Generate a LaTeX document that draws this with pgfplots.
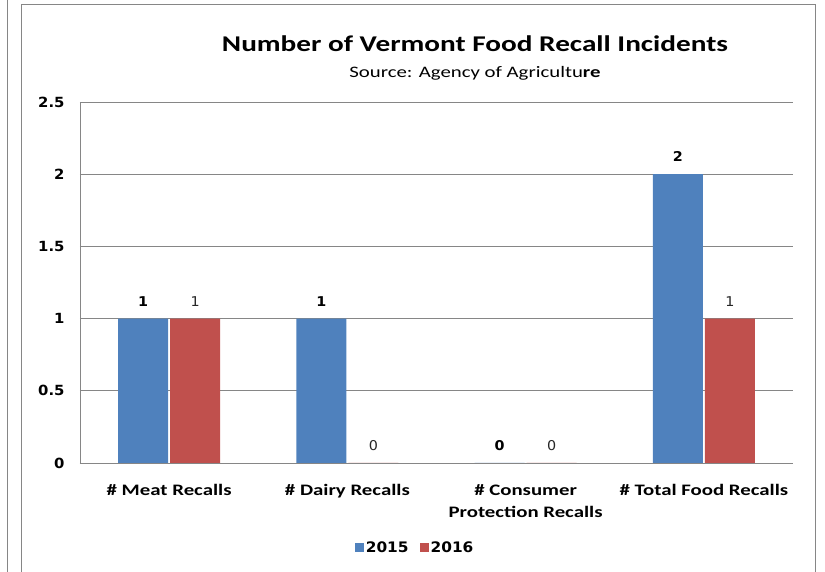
\documentclass[border=0pt]{standalone}
\usepackage{pgfplots}
\pgfplotsset{compat=1.18}
\usepackage{fontspec}
\setmainfont{Carlito}[FakeStretch=1.3]
\newfontfamily\vfont{DejaVu Sans}[FakeStretch=1.06]
\definecolor{xlblue}{HTML}{4F81BD}
\definecolor{xlred}{HTML}{C0504D}
\definecolor{xlgrid}{HTML}{868686}
\begin{document}
\begin{tikzpicture}[x=1pt,y=1pt]
\useasboundingbox (0,0) rectangle (825,572);
% chart frames
\draw[xlgrid,line width=1pt] (7.5,0) -- (7.5,572);
\draw[xlgrid,line width=1pt] (21,0) -- (21,567) -- (815,567) -- (815,0);
% titles
\node[font=\bfseries\fontsize{22.5}{27}\selectfont,anchor=base] at (475,520) {Number of Vermont Food Recall Incidents};
\node[font=\fontsize{16}{20}\selectfont,anchor=base] at (475,494) {Source: Agency of Agricultu\textbf{re}};
\begin{axis}[
  at={(80pt,109pt)}, anchor=south west,
  scale only axis, width=713pt, height=361pt,
  ybar, bar width=50pt,
  xmin=-0.5, xmax=3.5, ymin=0, ymax=2.5,
  xtick={0,1,2,3},
  xticklabels={{\# Meat Recalls},{\# Dairy Recalls},{\# Consumer\\Protection Recalls},{\# Total Food Recalls}},
  xticklabel style={font=\bfseries\fontsize{16}{22}\selectfont,align=center,anchor=north,yshift=-18pt},
  ytick={0,0.5,1,1.5,2,2.5},
  yticklabels={0,0.5,1,1.5,2,2.5},
  yticklabel style={font=\vfont\bfseries\fontsize{14}{16}\selectfont,anchor=east,xshift=-12pt},
  major tick length=0pt,
  ymajorgrids, grid style={xlgrid,line width=0.8pt},
  axis x line*=bottom, axis y line*=left,
  axis line style={xlgrid,line width=0.8pt,-},
  separate axis lines,
  /pgf/number format/assume math mode=true,
  nodes near coords,
  legend columns=2,
  legend style={draw=none,fill=none,at={(0.47,-0.235)},anchor=center,
    font=\vfont\bfseries\fontsize{14.5}{18}\selectfont,
    /tikz/every even column/.append style={column sep=9pt}},
  legend image code/.code={\fill[#1,draw=none] (0pt,-4pt) rectangle (9pt,5pt);},
]
\addplot[fill=xlblue,draw=none,
  every node near coord/.append style={font=\vfont\bfseries\fontsize{13.5}{16}\selectfont,black,yshift=9pt}]
  coordinates {(0,1) (1,1) (2,0) (3,2)};
\addplot[fill=xlred,draw=none,
  every node near coord/.append style={font=\vfont\fontsize{13.5}{16}\selectfont,black!85,yshift=9pt}]
  coordinates {(0,1) (1,0) (2,0) (3,1)};
\legend{2015,2016}
\end{axis}
\end{tikzpicture}
\end{document}
